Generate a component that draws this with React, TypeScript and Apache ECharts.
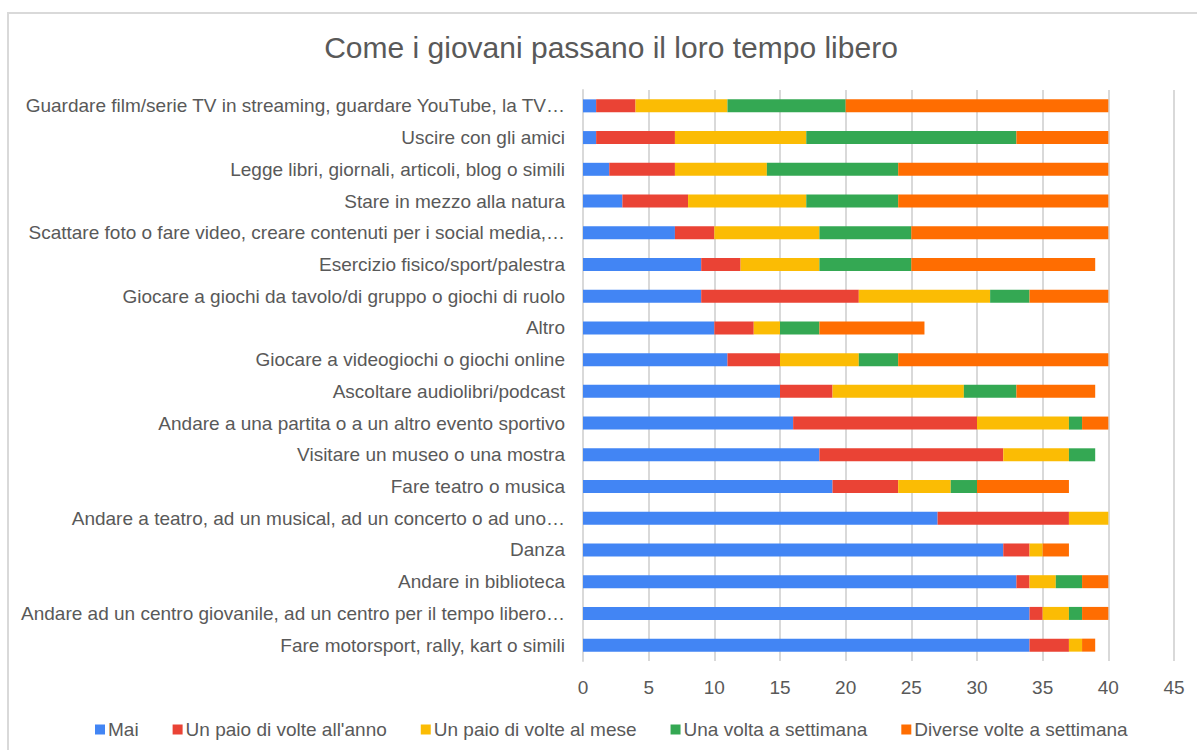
import React, { useEffect, useRef } from "react";
import * as echarts from "echarts";

const categories = [
  "Guardare film/serie TV in streaming, guardare YouTube, la TV…",
  "Uscire con gli amici",
  "Legge libri, giornali, articoli, blog o simili",
  "Stare in mezzo alla natura",
  "Scattare foto o fare video, creare contenuti per i social media,…",
  "Esercizio fisico/sport/palestra",
  "Giocare a giochi da tavolo/di gruppo o giochi di ruolo",
  "Altro",
  "Giocare a videogiochi o giochi online",
  "Ascoltare audiolibri/podcast",
  "Andare a una partita o a un altro evento sportivo",
  "Visitare un museo o una mostra",
  "Fare teatro o musica",
  "Andare a teatro, ad un musical, ad un concerto o ad uno…",
  "Danza",
  "Andare in biblioteca",
  "Andare ad un centro giovanile, ad un centro per il tempo libero…",
  "Fare motorsport, rally, kart o simili",
];

const seriesNames = [
  "Mai",
  "Un paio di volte all'anno",
  "Un paio di volte al mese",
  "Una volta a settimana",
  "Diverse volte a settimana",
];

const mai = [1, 1, 2, 3, 7, 9, 9, 10, 11, 15, 16, 18, 19, 27, 32, 33, 34, 34];
const paioAnno = [3, 6, 5, 5, 3, 3, 12, 3, 4, 4, 14, 14, 5, 10, 2, 1, 1, 3];
const paioMese = [7, 10, 7, 9, 8, 6, 10, 2, 6, 10, 7, 5, 4, 3, 1, 2, 2, 1];
const settimana = [9, 16, 10, 7, 7, 7, 3, 3, 3, 4, 1, 2, 2, 0, 0, 2, 1, 0];
const diverse = [20, 7, 16, 16, 15, 14, 6, 8, 16, 6, 2, 0, 7, 0, 2, 2, 2, 1];

const xTicks = [0, 5, 10, 15, 20, 25, 30, 35, 40, 45];

const colors = ["#4285F4", "#EA4335", "#FBBC04", "#34A853", "#FF6D01"];

const allValues = [mai, paioAnno, paioMese, settimana, diverse];

export default function App() {
  const ref = useRef<HTMLDivElement>(null);
  useEffect(() => {
    if (!ref.current) return;
    const chart = echarts.init(ref.current, undefined, { renderer: "svg" });
    const font = "Liberation Sans, Arial, sans-serif";
    chart.setOption({
      animation: false,
      backgroundColor: "#ffffff",
      textStyle: { fontFamily: font },
      title: {
        text: "Come i giovani passano il loro tempo libero",
        left: 606,
        textAlign: "center",
        top: 27,
        textStyle: { fontFamily: font, fontSize: 30, fontWeight: "normal", color: "#595959" },
      },
      graphic: [
        {
          type: "rect",
          shape: { x: 8, y: 13, width: 1300, height: 900 },
          style: { fill: "none", stroke: "#d9d9d9", lineWidth: 2 },
          silent: true,
        },
      ],
      legend: {
        data: seriesNames,
        left: 90,
        top: 715,
        itemWidth: 10,
        itemHeight: 10,
        itemGap: 34,
        icon: "rect",
        textStyle: { fontFamily: font, fontSize: 19, color: "#595959", padding: [0, 0, 0, -2] },
      },
      grid: { left: 583, right: 23, top: 90, bottom: 89, containLabel: false },
      xAxis: {
        type: "value",
        min: xTicks[0],
        max: xTicks[xTicks.length - 1],
        interval: 5,
        axisLine: { show: false },
        axisTick: { show: false },
        splitLine: { show: true, lineStyle: { color: "#d9d9d9", width: 2 } },
        axisLabel: { fontFamily: font, fontSize: 19, color: "#595959", margin: 17 },
      },
      yAxis: {
        type: "category",
        inverse: true,
        data: categories,
        axisLine: { show: true, lineStyle: { color: "#d9d9d9", width: 2 } },
        axisTick: { show: false },
        axisLabel: { fontFamily: font, fontSize: 19, color: "#595959", margin: 18 },
      },
      series: seriesNames.map((name, i) => ({
        name,
        type: "bar",
        stack: "total",
        data: allValues[i],
        barWidth: 13,
        itemStyle: { color: colors[i] },
      })),
    });
    return () => chart.dispose();
  }, []);
  return (
    <div
      ref={ref}
      style={{ position: "absolute", left: 0, top: 0, width: 1197, height: 750 }}
    />
  );
}
